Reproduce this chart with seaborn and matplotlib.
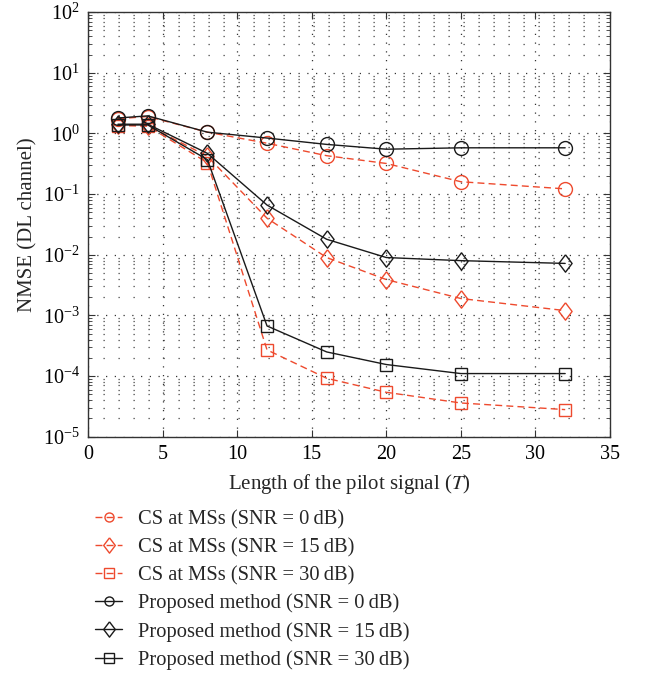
import matplotlib
matplotlib.use("Agg")
import matplotlib.pyplot as plt
import seaborn as sns
import numpy as np
import pandas as pd
from matplotlib.ticker import LogLocator, MultipleLocator, NullFormatter, NullLocator

sns.set_style("ticks")
plt.rcParams['font.family'] = ['Liberation Serif', 'DejaVu Serif']
plt.rcParams['mathtext.fontset'] = 'stix'

T = [2, 4, 8, 12, 16, 20, 25, 32]
cs_0 = [1.75, 1.9, 1.05, 0.69, 0.43, 0.32, 0.16, 0.122]
cs_15 = [1.38, 1.35, 0.42, 0.040, 0.0090, 0.0039, 0.0019, 0.0012]
cs_30 = [1.35, 1.32, 0.33, 0.00027, 0.000092, 0.000054, 0.000036, 0.000028]
pr_0 = [1.8, 1.95, 1.05, 0.84, 0.66, 0.55, 0.58, 0.58]
pr_15 = [1.42, 1.42, 0.47, 0.066, 0.018, 0.0090, 0.0080, 0.0072]
pr_30 = [1.38, 1.38, 0.37, 0.00067, 0.00025, 0.000155, 0.00011, 0.00011]

labels = [
    "CS at MSs (SNR = 0\u2009dB)",
    "CS at MSs (SNR = 15\u2009dB)",
    "CS at MSs (SNR = 30\u2009dB)",
    "Proposed method (SNR = 0\u2009dB)",
    "Proposed method (SNR = 15\u2009dB)",
    "Proposed method (SNR = 30\u2009dB)",
]
series = [cs_0, cs_15, cs_30, pr_0, pr_15, pr_30]
red = "#EE4A2E"
black = "#1a1a1a"
colors = [red, red, red, black, black, black]
diamond = [(0, 1), (0.76, 0), (0, -1), (-0.76, 0), (0, 1)]
markers = ["o", diamond, "s", "o", diamond, "s"]
styles = ["--", "--", "--", "-", "-", "-"]
msizes = [10, 12.5, 8.5, 10, 12.5, 8.5]
leg_sizes = [6.5, 11, 6.5, 6.5, 11, 6.5]

fig = plt.figure(figsize=(6.53, 6.75), dpi=100)
ax = fig.add_axes([0.135, 0.353, 0.799, 0.629])

for vals, lab, c, m, ls, ms in zip(series, labels, colors, markers, styles, msizes):
    df = pd.DataFrame({"T": T, "NMSE": vals})
    sns.lineplot(data=df, x="T", y="NMSE", ax=ax, color=c, marker=m,
                 markersize=ms, markerfacecolor="none", markeredgecolor=c,
                 markeredgewidth=1.0, linewidth=1.0, label=lab, legend=False)
    if ls == "--":
        ax.lines[-1].set_linestyle((0, (5, 3)))

ax.set_yscale("log")
ax.set_xlim(0, 35)
ax.set_ylim(1e-5, 1e2)
ax.xaxis.set_major_locator(MultipleLocator(5))
ax.xaxis.set_minor_locator(NullLocator())
ax.yaxis.set_major_locator(LogLocator(base=10, numticks=20))
ax.yaxis.set_minor_locator(LogLocator(base=10, subs=np.arange(2, 10), numticks=20))
ax.yaxis.set_minor_formatter(NullFormatter())
ax.grid(which="major", axis="both", color="#333333", linestyle=(0, (1, 6)), linewidth=0.9)
ax.grid(which="minor", axis="y", color="#444444", linestyle=(0, (1, 11)), linewidth=0.9)
ax.tick_params(which="both", direction="in", top=True, right=True, labelsize=14.5,
               colors="#333333", labelcolor="black")
ax.tick_params(which="major", length=5, pad=6)
ax.tick_params(which="minor", length=3)
ax.set_axisbelow(True)
for sp in ax.spines.values():
    sp.set_linewidth(1.0)
    sp.set_color("#333333")

ax.set_xlabel("Length of the pilot signal ($\\mathit{T}$)", fontsize=15, labelpad=6)
ax.set_ylabel("NMSE (DL channel)", fontsize=15, labelpad=4)

handles, labs = ax.get_legend_handles_labels()
leg = fig.legend(handles, labs, loc="upper left", bbox_to_anchor=(0.145, 0.244),
                 frameon=False, fontsize=14.8, handlelength=1.35, labelspacing=0.41,
                 handletextpad=0.75, borderaxespad=0, borderpad=0)
for h, s in zip(leg.legend_handles, leg_sizes):
    h.set_markersize(s)

fig.savefig("out.png", dpi=100)
